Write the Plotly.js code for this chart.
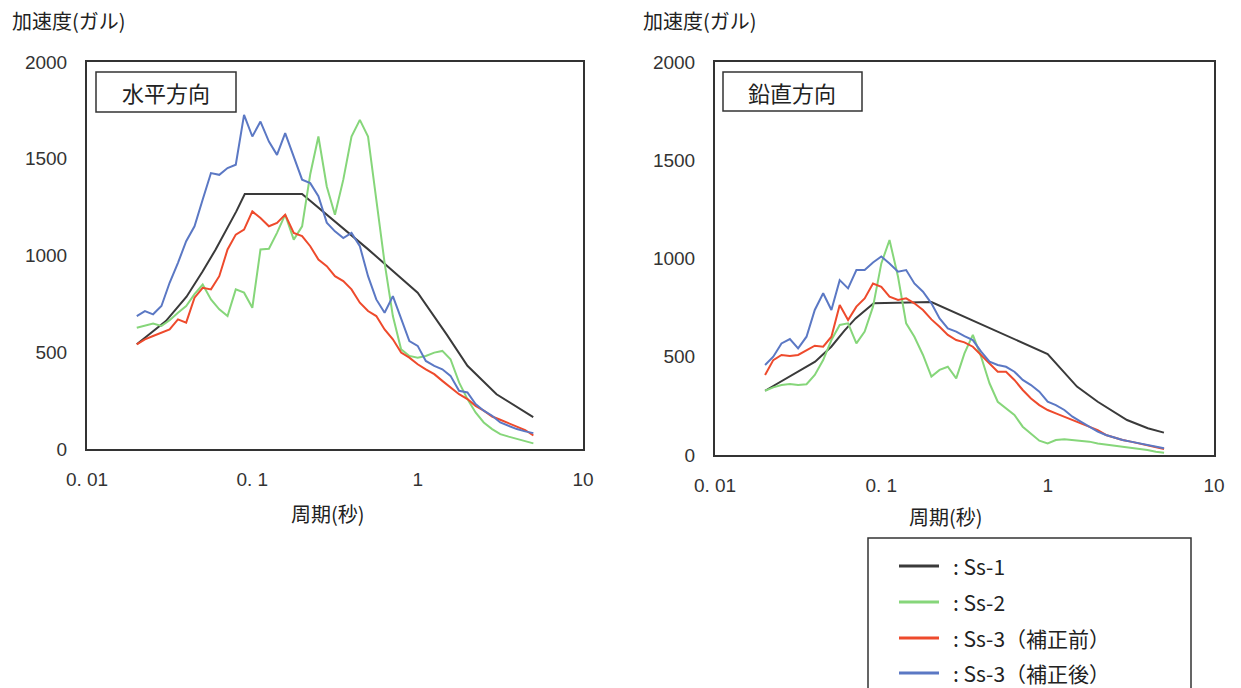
<!DOCTYPE html>
<html>
<head>
<meta charset="utf-8">
<script src="https://cdn.plot.ly/plotly-3.0.1.min.js"></script>
<style>html,body{margin:0;padding:0;background:#fff;}#chart{width:1241px;height:688px;}</style>
</head>
<body>
<div id="chart"></div>
<script>
// ---- data (periods in seconds, accelerations in gal) ----
const periods = [0.02,0.0224,0.0251,0.0282,0.0316,0.0355,0.0398,0.0447,0.0501,0.0562,0.0631,0.0708,0.0794,0.0891,0.1,0.112,0.126,0.141,0.158,0.178,0.2,0.224,0.251,0.282,0.316,0.355,0.398,0.447,0.501,0.562,0.631,0.708,0.794,0.891,1.0,1.12,1.26,1.41,1.58,1.78,2.0,2.24,2.51,2.82,3.16,3.55,3.98,4.47,5.01];
const ss1Periods = [0.02,0.03,0.04,0.05,0.06,0.07,0.08,0.09,0.2,0.5,1.0,1.5,2,3,4,5];

// horizontal (水平方向)
const hSs1  = [541,661,787,917,1031,1134,1228,1318,1318,1033,808,591,430,283,215,165];
const hSs2  = [627,636,649,636,665,704,739,800,850,773,722,687,825,808,730,1031,1035,1117,1211,1082,1151,1420,1615,1357,1211,1392,1615,1701,1615,1289,962,687,515,481,472,481,498,507,464,344,258,189,137,103,77,64,52,38,29];
const hSs3a = [541,567,584,601,618,670,653,782,833,825,893,1031,1108,1134,1228,1194,1151,1168,1211,1117,1100,1048,979,945,893,868,825,756,713,687,618,567,498,472,438,412,387,352,318,283,258,223,198,168,151,134,115,98,70];
const hSs3b = [687,713,696,739,859,962,1074,1151,1289,1426,1417,1452,1469,1727,1615,1692,1589,1520,1632,1512,1392,1374,1306,1170,1125,1090,1117,1048,893,773,704,790,670,558,533,455,430,412,378,301,292,232,198,172,137,120,103,91,82];

// vertical (鉛直方向)
const vSs1  = [327,412,475,551,633,695,738,772,778,629,514,348,271,178,136,114];
const vSs2  = [327,344,356,361,356,360,407,483,585,662,670,568,628,755,975,1094,907,670,602,509,399,433,449,390,517,611,500,365,271,237,204,144,110,73,59,76,80,76,73,68,59,54,47,42,39,31,25,17,12];
const vSs3a = [407,483,509,504,509,534,556,551,602,763,687,755,797,873,856,806,789,797,772,738,690,653,611,585,573,551,509,466,424,424,382,331,288,254,229,212,195,178,161,144,127,102,90,76,68,59,51,42,31];
const vSs3b = [458,500,568,590,543,602,738,823,738,890,848,941,941,980,1010,975,933,941,873,831,772,695,644,628,605,585,526,475,458,449,424,382,356,322,271,254,229,195,170,144,119,102,90,76,68,59,51,42,34];

const seriesNames = ['Ss-1','Ss-2','Ss-3（補正前）','Ss-3（補正後）'];
const seriesColors = ['#3a3a3a','#86d67a','#ee4a2c','#5b78c4'];
const xTickVals = [0.01,0.1,1,10];
const xTickText = ['0. 01','0. 1','1','10'];
const yTickVals = [0,500,1000,1500,2000];
const panelTitles = ['水平方向','鉛直方向'];
const yTitle = '加速度(ガル)';
const xTitle = '周期(秒)';

// ---- figure ----
const W = 1241, H = 688;
const px = v => v / W;
const py = v => 1 - v / H;
const CJK = 'Noto Sans CJK JP, sans-serif';
const NUM = 'Liberation Sans, Arial, Noto Sans CJK JP, sans-serif';

function mk(x, y, i, xa, ya) {
  return {x: x, y: y, type: 'scatter', mode: 'lines', name: seriesNames[i],
    line: {color: seriesColors[i], width: 2}, xaxis: xa, yaxis: ya,
    showlegend: false, hoverinfo: 'skip'};
}
const traces = [
  mk(ss1Periods, hSs1, 0, 'x', 'y'),
  mk(periods, hSs2, 1, 'x', 'y'),
  mk(periods, hSs3a, 2, 'x', 'y'),
  mk(periods, hSs3b, 3, 'x', 'y'),
  mk(ss1Periods, vSs1, 0, 'x2', 'y2'),
  mk(periods, vSs2, 1, 'x2', 'y2'),
  mk(periods, vSs3a, 2, 'x2', 'y2'),
  mk(periods, vSs3b, 3, 'x2', 'y2')
];

function xAxis(d0, d1, anchor) {
  return {type: 'log', range: [-2, 1], domain: [px(d0), px(d1)], anchor: anchor,
    showline: true, mirror: true, linecolor: '#333', linewidth: 2,
    showgrid: false, zeroline: false, ticks: '',
    tickvals: xTickVals, ticktext: xTickText, ticklabelstandoff: 12,
    tickfont: {family: NUM, size: 19, color: '#333'}, fixedrange: true};
}
function yAxis(top, bottom, anchor) {
  return {range: [0, 2000], domain: [py(bottom), py(top)], anchor: anchor,
    showline: true, mirror: true, linecolor: '#333', linewidth: 2,
    showgrid: false, zeroline: false, ticks: '',
    tickvals: yTickVals, ticklabelstandoff: 14,
    tickfont: {family: NUM, size: 19, color: '#333'}, fixedrange: true};
}

const annotations = [
  {text: yTitle, x: px(10), y: py(20), xanchor: 'left', yanchor: 'middle'},
  {text: yTitle, x: px(641), y: py(20), xanchor: 'left', yanchor: 'middle'},
  {text: xTitle, x: px(328), y: py(513), xanchor: 'center', yanchor: 'middle'},
  {text: xTitle, x: px(946), y: py(516), xanchor: 'center', yanchor: 'middle'},
  {text: panelTitles[0], x: px(166), y: py(92), xanchor: 'center', yanchor: 'middle', size: 22},
  {text: panelTitles[1], x: px(792), y: py(92), xanchor: 'center', yanchor: 'middle', size: 22}
].map(a => ({text: a.text, x: a.x, y: a.y, xref: 'paper', yref: 'paper',
  xanchor: a.xanchor, yanchor: a.yanchor, showarrow: false,
  font: {family: CJK, size: a.size || 20, color: '#222'}}));

const shapes = [
  {type: 'rect', xref: 'paper', yref: 'paper', x0: px(96), x1: px(236), y0: py(112), y1: py(72), line: {color: '#333', width: 1.5}},
  {type: 'rect', xref: 'paper', yref: 'paper', x0: px(723), x1: px(862), y0: py(111), y1: py(72), line: {color: '#333', width: 1.5}},
  {type: 'rect', xref: 'paper', yref: 'paper', x0: px(868), x1: px(1191), y0: py(720), y1: py(538), line: {color: '#333', width: 1.5}, fillcolor: 'rgba(0,0,0,0)'}
];
const legendRows = [566, 602, 638, 673];
seriesNames.forEach((n, i) => {
  shapes.push({type: 'line', xref: 'paper', yref: 'paper', x0: px(899), x1: px(939),
    y0: py(legendRows[i]), y1: py(legendRows[i]), line: {color: seriesColors[i], width: 3}});
  annotations.push({text: ': ' + n, x: px(951), y: py(legendRows[i]), xref: 'paper', yref: 'paper',
    xanchor: 'left', yanchor: 'middle', showarrow: false,
    font: {family: CJK, size: 21, color: '#222'}});
});

const layout = {
  width: W, height: H, margin: {l: 0, r: 0, t: 0, b: 0},
  paper_bgcolor: '#fff', plot_bgcolor: '#fff', showlegend: false,
  xaxis: xAxis(87, 583, 'y'),
  yaxis: yAxis(62, 449, 'x'),
  xaxis2: xAxis(715, 1214, 'y2'),
  yaxis2: yAxis(62, 455, 'x2'),
  annotations: annotations, shapes: shapes
};
Plotly.newPlot('chart', traces, layout, {displayModeBar: false, staticPlot: true});
</script>
</body>
</html>
